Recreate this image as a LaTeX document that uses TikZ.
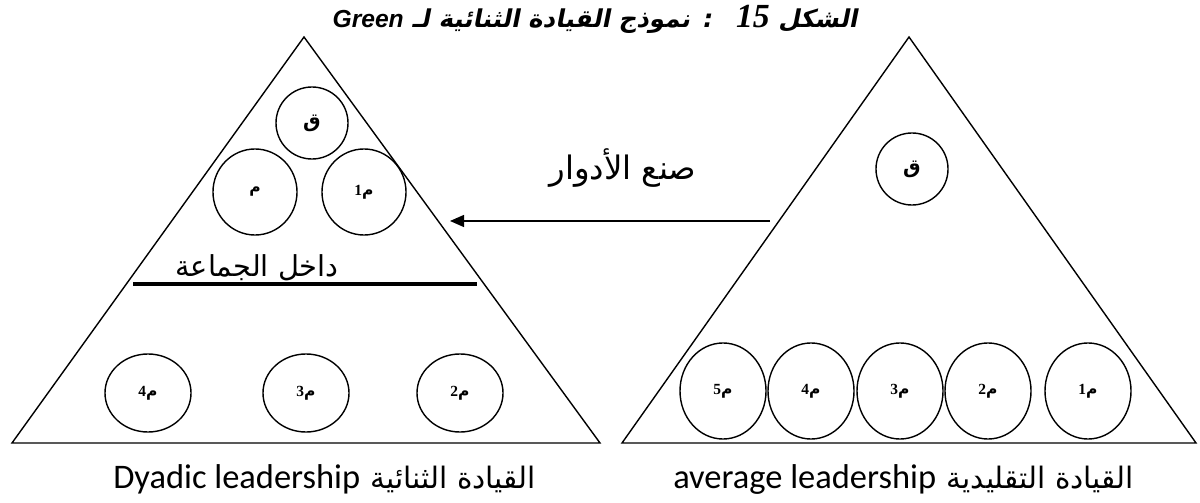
\documentclass[tikz,border=0pt]{standalone}
\usepackage{fontspec}
\setmainfont{Carlito}
\newfontfamily\arabicfont[Script=Arabic]{DejaVu Sans}
\newfontfamily\titlearabic[Script=Arabic,FakeSlant=0.2]{DejaVu Sans Bold}
\newfontfamily\titlelatin{Liberation Sans}
\newfontfamily\numfont{Liberation Serif}
\TeXXeTstate=1
\usetikzlibrary{positioning,arrows.meta,shapes.geometric}
\tikzset{
  tri/.style={line width=1pt},
  member/.style={draw,ellipse,line width=1pt,inner sep=0pt,font=\fontsize{11}{13}\selectfont},
  leader/.style={member,minimum width=1.8cm,minimum height=1.8cm},
  upper/.style={member,minimum width=2.1cm,minimum height=2.15cm},
  dyadrow/.style={member,minimum width=2.15cm,minimum height=1.95cm},
  avgrow/.style={member,minimum width=2.15cm,minimum height=2.4cm},
  arlabel/.style={font=\arabicfont\fontsize{#1}{#1}\selectfont},
  caption/.style={font=\fontsize{24.5}{28}\selectfont,inner sep=0pt,anchor=base west},
  arcaption/.style={font=\arabicfont\fontsize{21}{24}\selectfont,inner sep=0pt,anchor=base west}
}
\newcommand{\memb}[1]{{\numfont\bfseries #1}{\arabicfont\bfseries م}}
\newcommand{\lead}{{\arabicfont\bfseries\fontsize{14}{16}\selectfont ق}}

\begin{document}
\begin{tikzpicture}[x=0.025cm,y=-0.025cm]
\useasboundingbox (0,0) rectangle (1200,503);
\node[inner sep=0pt] (title) at (595,19) {\titlearabic\fontsize{17.5}{20}\selectfont\beginR الشكل \beginL{\numfont\bfseries\itshape\fontsize{24}{26}\selectfont 15}\endL\quad : نموذج القيادة الثنائية لـ \beginL{\titlelatin\bfseries\itshape Green}\endL\endR};
\draw[tri] (304,37) -- (12,443) -- (600,443) -- cycle;
\draw[tri] (909,37) -- (622,443) -- (1196,443) -- cycle;
\node[leader] (lq) at (312,123) {\lead};
\node[upper] (lm) at (255,192) {{\arabicfont\bfseries م}};
\node[upper] (lm1) at (364,192) {\memb{1}};
\draw[line width=3pt] (133,284) -- (477,284);
\node[arlabel=20.5] (inside) at (257,268) {\beginR داخل الجماعة\endR};
\node[dyadrow] (lm4) at (148,393) {\memb{4}};
\node[dyadrow] (lm3) at (306,393) {\memb{3}};
\node[dyadrow] (lm2) at (460,393) {\memb{2}};
\node[leader] (rq) at (912,169) {\lead};
\foreach \i/\x in {5/723,4/811,3/900,2/988,1/1088}
  \node[avgrow] (rm\i) at (\x,391) {\memb{\i}};
\coordinate (rolestart) at (770,221);
\coordinate (roleend) at (450,221);
\draw[line width=1pt,-{Triangle[length=3.5mm,width=3mm]}] (rolestart) -- (roleend);
\node[arlabel=23] (roles) at (623,168) {\beginR صنع الأدوار\endR};
\node[caption] (dyaden) at (113,488) {Dyadic leadership};
\node[arcaption] (dyadar) at ([xshift=7pt]dyaden.base east) {\beginR القيادة الثنائية\endR};
\node[caption] (avgen) at (673,488) {average leadership};
\node[arcaption] (avgar) at ([xshift=7pt]avgen.base east) {\beginR القيادة التقليدية\endR};
\end{tikzpicture}
\end{document}
